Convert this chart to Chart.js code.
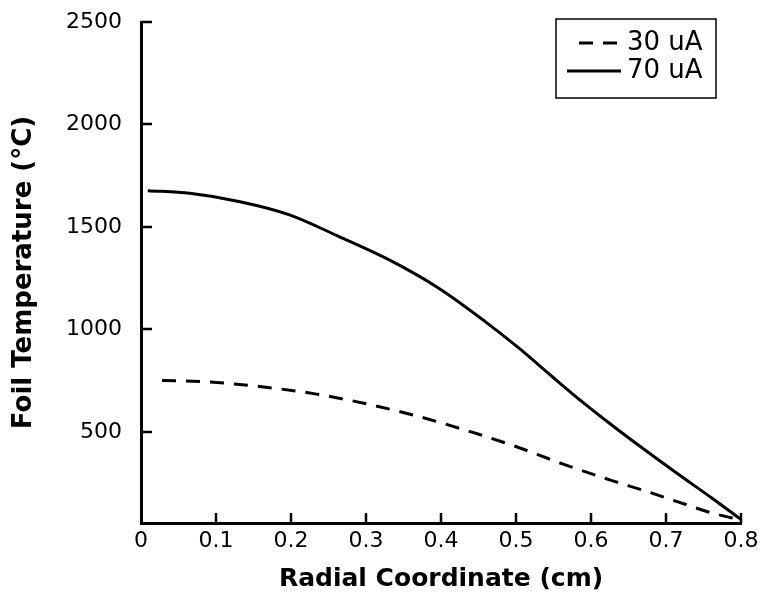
<!DOCTYPE html>
<html>
<head>
<meta charset="utf-8">
<script src="https://cdn.jsdelivr.net/npm/chart.js@4.4.1/dist/chart.umd.min.js"></script>
<style>
  html, body { margin: 0; padding: 0; background: #fff; }
  #wrap { width: 764px; height: 602px; }
</style>
</head>
<body>
<div id="wrap"><canvas id="foilChart" width="764" height="602"></canvas></div>
<script>
// values
const radius30 = [0.028, 0.088, 0.177, 0.234, 0.30, 0.364, 0.431, 0.497, 0.561, 0.628, 0.672, 0.716, 0.761, 0.80];
const temp30 = [750, 744, 713, 684, 637, 581, 510, 432, 345, 262, 212, 158, 104, 70];
const radius70 = [0.009, 0.065, 0.132, 0.198, 0.264, 0.331, 0.397, 0.459, 0.504, 0.548, 0.583, 0.628, 0.672, 0.716, 0.761, 0.80];
const temp70 = [1677, 1664, 1623, 1559, 1453, 1339, 1201, 1038, 908, 770, 662, 532, 411, 294, 177, 72];
const seriesLabels = ["30 uA", "70 uA"];
const xTicks = [0, 0.1, 0.2, 0.3, 0.4, 0.5, 0.6, 0.7, 0.8];
const yTicks = [500, 1000, 1500, 2000, 2500];

const toPoints = (xs, ys) => xs.map((x, i) => ({ x: x, y: ys[i] }));

// tick marks point into the plot, so draw them ourselves
const innerTicks = {
  id: "innerTicks",
  afterDraw(chart) {
    const ctx = chart.ctx;
    const ca = chart.chartArea;
    const xs = chart.scales.x, ys = chart.scales.y;
    ctx.save();
    ctx.strokeStyle = "#000";
    ctx.lineWidth = 2.5;
    ctx.beginPath();
    xs.ticks.forEach((t) => {
      if (t.value === 0) return;
      const px = Math.round(xs.getPixelForValue(t.value));
      ctx.moveTo(px, ca.bottom);
      ctx.lineTo(px, ca.bottom - 10);
    });
    ys.ticks.forEach((t) => {
      const py = Math.round(ys.getPixelForValue(t.value));
      ctx.moveTo(ca.left, py);
      ctx.lineTo(ca.left + 11, py);
    });
    ctx.stroke();
    ctx.restore();
  }
};

// legend in a box, drawn inside the plot
const boxLegend = {
  id: "boxLegend",
  afterDraw(chart) {
    const ctx = chart.ctx;
    const ca = chart.chartArea;
    const left = ca.right - 185, right = ca.right - 25;
    const top = ca.top - 3, bottom = ca.top + 76;
    ctx.save();
    ctx.strokeStyle = "#000";
    ctx.lineWidth = 1.5;
    ctx.strokeRect(left, top, right - left, bottom - top);
    const rows = [
      { y: top + 24, x1: left + 23, x2: left + 63 },
      { y: top + 52, x1: left + 11, x2: left + 65 }
    ];
    chart.data.datasets.forEach((ds, i) => {
      const r = rows[i];
      ctx.beginPath();
      ctx.setLineDash(ds.borderDash || []);
      ctx.lineWidth = ds.borderWidth;
      ctx.strokeStyle = ds.borderColor;
      ctx.moveTo(r.x1, r.y);
      ctx.lineTo(r.x2, r.y);
      ctx.stroke();
      ctx.setLineDash([]);
      ctx.fillStyle = "#000";
      ctx.font = "26px 'DejaVu Sans'";
      ctx.textBaseline = "middle";
      ctx.textAlign = "left";
      ctx.fillText(ds.label, left + 71, r.y);
    });
    ctx.restore();
  }
};

const ctx = document.getElementById("foilChart").getContext("2d");
const myChart = new Chart(ctx, {
  type: "line",
  data: {
    datasets: [
      {
        label: seriesLabels[0],
        data: toPoints(radius30, temp30),
        borderColor: "#000",
        borderWidth: 3,
        borderDash: [14, 10],
        pointRadius: 0,
        cubicInterpolationMode: "monotone",
        fill: false
      },
      {
        label: seriesLabels[1],
        data: toPoints(radius70, temp70),
        borderColor: "#000",
        borderWidth: 3,
        pointRadius: 0,
        cubicInterpolationMode: "monotone",
        fill: false
      }
    ]
  },
  options: {
    responsive: false,
    animation: false,
    layout: { padding: { left: 0, right: 23, top: 22, bottom: 0 } },
    plugins: {
      legend: { display: false },
      tooltip: { enabled: false }
    },
    scales: {
      x: {
        type: "linear",
        min: 0,
        max: 0.8,
        afterBuildTicks: (scale) => { scale.ticks = xTicks.map((v) => ({ value: v })); },
        afterFit: (scale) => {
          scale.height = 79;
          scale.paddingLeft = 0;
          scale.paddingRight = 0;
        },
        border: { display: true, color: "#000", width: 3 },
        grid: { display: false, drawTicks: false },
        ticks: {
          color: "#000",
          padding: 5,
          maxRotation: 0,
          font: { family: "'DejaVu Sans'", size: 22 }
        },
        title: {
          display: true,
          text: "Radial Coordinate (cm)",
          color: "#000",
          padding: { top: 0, bottom: 8 },
          font: { family: "'DejaVu Sans'", size: 25, weight: "bold" }
        }
      },
      y: {
        type: "linear",
        min: 55,
        max: 2500,
        afterBuildTicks: (scale) => { scale.ticks = yTicks.map((v) => ({ value: v })); },
        afterFit: (scale) => {
          scale.width = 141;
          scale.paddingTop = 0;
          scale.paddingBottom = 0;
        },
        border: { display: true, color: "#000", width: 3 },
        grid: { display: false, drawTicks: false },
        ticks: {
          color: "#000",
          padding: 19,
          callback: (v) => String(v),
          font: { family: "'DejaVu Sans'", size: 22 }
        },
        title: {
          display: true,
          text: "Foil Temperature (°C)",
          color: "#000",
          padding: { top: 9, bottom: 0 },
          font: { family: "'DejaVu Sans'", size: 26, weight: "bold" }
        }
      }
    }
  },
  plugins: [innerTicks, boxLegend]
});
</script>
</body>
</html>
